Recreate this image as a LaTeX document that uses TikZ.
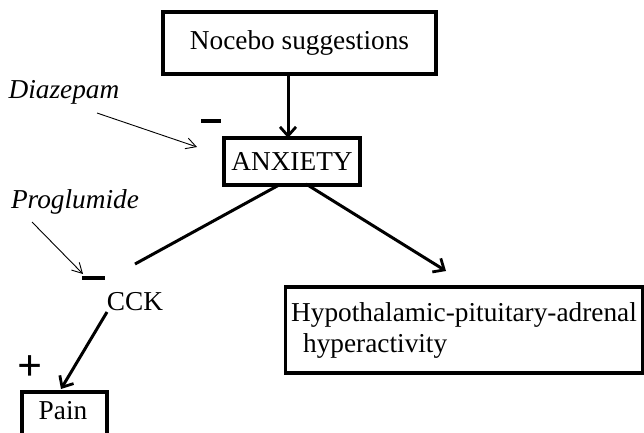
\documentclass[tikz,border=0pt]{standalone}
\usepackage{fontspec}
\setmainfont{Liberation Serif}
\usetikzlibrary{arrows.meta}
\begin{document}
\begin{tikzpicture}[x=1pt,y=-1pt,
  box/.style={draw, line width=3.3pt, inner sep=0pt, font=\fontsize{27.3}{31}\selectfont},
  lbl/.style={inner sep=0pt, font=\fontsize{27.3}{31}\selectfont},
  drug/.style={inner sep=0pt, font=\fontsize{27.3}{31}\selectfont\itshape},
  heavy/.style={line width=3pt, -{Straight Barb[length=9pt,width=16pt,line width=2.8pt]}},
  heavyline/.style={line width=3pt},
  thin/.style={line width=0.9pt, -{Straight Barb[length=10pt,width=11pt,line width=0.9pt]}},
  bar/.style={fill=black, draw=none}]
\useasboundingbox (0,0) rectangle (644,432);
\fill[white] (0,0) rectangle (644,432);
% boxes
\node[box, minimum width=273pt, minimum height=62pt] (noc) at (299.5,43) {Nocebo suggestions};
\node[box, minimum width=136pt, minimum height=47pt] (anx) at (292,161.5) {ANXIETY};
\node[box, minimum width=357pt, minimum height=86pt, align=left] (hpa) at (464,330)
  {Hypothalamic-pituitary-adrenal\\\hspace{12pt}hyperactivity};
\node[box, minimum width=85pt, minimum height=44pt] (pain) at (64.5,414) {};
\node[lbl] (paintxt) at (63,411) {Pain};
% labels
\node[lbl] (cck) at (135,302) {CCK};
\node[drug] (diaz) at (64,92) {Diazepam};
\node[drug] (prog) at (75,202) {Proglumide};
\node[inner sep=0pt, font=\fontsize{44}{44}\selectfont\bfseries] (plus) at (30,368) {+};
% minus bars
\fill[bar] (200.5,119) rectangle (221,123);
\fill[bar] (81.5,276) rectangle (104.5,280);
% coordinates
\coordinate (nocS) at (288,74);
\coordinate (anxN) at (288,138);
\coordinate (anxL) at (279,185);
\coordinate (anxR) at (306,184);
\coordinate (cckin) at (135,264);
\coordinate (cckout) at (107,312);
\coordinate (hpain) at (446,271);
\coordinate (painin) at (61,389);
\coordinate (diazS) at (97,113);
\coordinate (diazT) at (197,147);
\coordinate (progS) at (32,222);
\coordinate (progT) at (83,274);
% connectors
\draw[heavy] (nocS) -- (anxN);
\draw[heavyline] (anxL) -- (cckin);
\draw[heavy] (anxR) -- (hpain);
\draw[heavy] (cckout) -- (painin);
\draw[thin] (diazS) -- (diazT);
\draw[thin] (progS) -- (progT);
\end{tikzpicture}
\end{document}
